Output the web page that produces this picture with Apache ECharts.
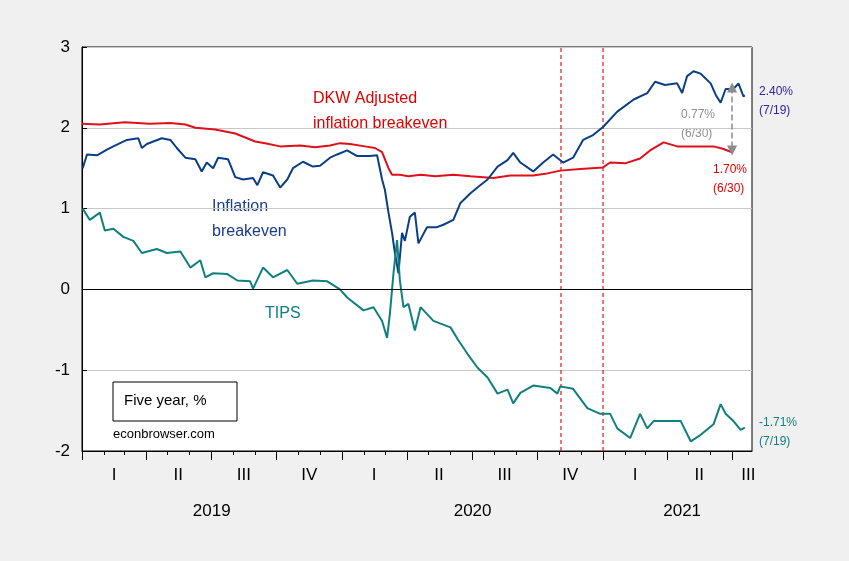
<!DOCTYPE html>
<html><head><meta charset="utf-8">
<script src="https://cdn.jsdelivr.net/npm/echarts@6/dist/echarts.min.js"></script>
<style>html,body{margin:0;padding:0;background:#f0f0f0}#c{width:849px;height:561px}</style>
</head><body><div id="c"></div>
<script>
// x values: days since 2019-01-01
const dkw = [[0,2.05],[25,2.04],[60,2.07],[95,2.05],[124,2.06],[145,2.04],[159,2.00],[187,1.98],[215,1.93],[229,1.88],[243,1.83],[257,1.81],[278,1.77],[306,1.78],[327,1.76],[348,1.78],[362,1.81],[376,1.80],[397,1.77],[411,1.75],[421,1.70],[430,1.50],[435,1.42],[446,1.42],[458,1.40],[475,1.42],[496,1.40],[521,1.42],[545,1.40],[577,1.38],[601,1.41],[633,1.41],[650,1.43],[671,1.47],[699,1.49],[731,1.51],[741,1.57],[762,1.56],[783,1.62],[797,1.72],[816,1.82],[835,1.77],[861,1.77],[886,1.77],[899,1.74],[911,1.70]];
const breakeven = [[1,1.50],[7,1.67],[21,1.66],[35,1.73],[44,1.77],[63,1.85],[79,1.87],[84,1.75],[91,1.80],[112,1.87],[124,1.85],[133,1.75],[145,1.63],[159,1.61],[168,1.46],[175,1.57],[184,1.50],[191,1.63],[205,1.61],[215,1.39],[226,1.36],[240,1.38],[246,1.29],[254,1.45],[268,1.41],[278,1.26],[288,1.36],[296,1.50],[310,1.58],[324,1.52],[334,1.53],[348,1.63],[358,1.67],[372,1.72],[386,1.65],[404,1.65],[414,1.66],[421,1.36],[425,1.23],[430,0.95],[435,0.70],[439,0.45],[444,0.20],[449,0.70],[453,0.60],[460,0.90],[467,0.95],[472,0.57],[484,0.77],[498,0.77],[507,0.80],[521,0.86],[531,1.07],[545,1.19],[556,1.27],[569,1.36],[583,1.52],[597,1.60],[605,1.69],[615,1.57],[633,1.46],[647,1.57],[661,1.67],[675,1.57],[689,1.63],[703,1.85],[717,1.91],[731,2.01],[751,2.20],[774,2.35],[793,2.43],[804,2.57],[818,2.53],[835,2.55],[842,2.43],[849,2.64],[858,2.70],[868,2.67],[882,2.55],[889,2.41],[896,2.31],[903,2.48],[914,2.48],[921,2.55],[928,2.39],[930,2.40]];
const tips = [[1,1.00],[11,0.86],[25,0.95],[32,0.73],[44,0.75],[58,0.65],[72,0.60],[84,0.45],[105,0.50],[119,0.45],[138,0.47],[152,0.27],[166,0.36],[173,0.15],[184,0.20],[204,0.19],[218,0.11],[236,0.10],[240,0.01],[254,0.27],[268,0.15],[288,0.24],[302,0.07],[324,0.11],[344,0.10],[362,0.00],[372,-0.10],[395,-0.26],[409,-0.22],[421,-0.39],[428,-0.60],[432,-0.30],[437,0.20],[442,0.61],[446,0.11],[451,-0.22],[458,-0.18],[467,-0.51],[475,-0.22],[493,-0.39],[517,-0.47],[528,-0.63],[541,-0.80],[555,-0.97],[569,-1.09],[583,-1.29],[597,-1.24],[605,-1.41],[615,-1.28],[633,-1.19],[657,-1.22],[667,-1.29],[671,-1.20],[689,-1.23],[709,-1.47],[727,-1.54],[741,-1.54],[751,-1.72],[769,-1.84],[783,-1.54],[793,-1.72],[802,-1.63],[821,-1.63],[840,-1.63],[854,-1.88],[868,-1.80],[886,-1.67],[896,-1.42],[903,-1.54],[914,-1.63],[924,-1.74],[930,-1.71]];
const quarterStarts = [0,90,181,273,365,456,547,639,731,821,912];
const monthStarts = [0,31,59,90,120,151,181,212,243,273,304,334,365,396,425,456,486,517,547,578,609,639,670,700,731,762,790,821,851,882,912];
const quarterLabelPos = [45,135,227,319,410,501,593,685,776,866,935];
const quarterLabels = ['I','II','III','IV','I','II','III','IV','I','II','III'];
const yearLabelPos = [182,548,842];
const yearLabels = ['2019','2020','2021'];
const verticalLines = [672,731];
const spread = [912,2.50,1.72];

const chart = echarts.init(document.getElementById('c'));
const xMax = 940;
const baseX = {type:'value',min:0,max:xMax,position:'bottom',splitLine:{show:false}};
const vSeries = verticalLines.map(v=>({type:'line',data:[[v,-2],[v,3]],showSymbol:false,silent:true,z:2,
  color:'#e8141e',lineStyle:{color:'#e8141e',type:[4,3],width:1.2}}));
chart.setOption({
  animation:false,
  backgroundColor:'#f0f0f0',
  grid:{left:82,right:97,top:47,bottom:110,show:true,backgroundColor:'#fff',borderColor:'#000',borderWidth:1},
  xAxis:[
    Object.assign({},baseX,{axisLine:{onZero:false,lineStyle:{color:'#000'}},
      axisTick:{customValues:quarterStarts,length:9,lineStyle:{color:'#000'}},
      axisLabel:{customValues:quarterLabelPos,formatter:v=>quarterLabels[quarterLabelPos.indexOf(v)],color:'#000',fontSize:17,fontFamily:'Liberation Sans',margin:16}}),
    Object.assign({},baseX,{axisLine:{show:false,onZero:false},
      axisTick:{customValues:monthStarts,length:4,lineStyle:{color:'#000'}},axisLabel:{show:false}}),
    Object.assign({},baseX,{axisLine:{show:false,onZero:false},axisTick:{show:false},
      axisLabel:{customValues:yearLabelPos,formatter:v=>yearLabels[yearLabelPos.indexOf(v)],color:'#000',fontSize:17,fontFamily:'Liberation Sans',margin:52}})
  ],
  yAxis:{type:'value',min:-2,max:3,interval:1,axisLine:{show:true,lineStyle:{color:'#000'}},axisTick:{show:true,inside:true,length:5,lineStyle:{color:'#000'}},
    axisLabel:{color:'#000',fontSize:17,fontFamily:'Liberation Sans',margin:12},splitLine:{lineStyle:{color:'#c8c8c8'}}},
  series:[
    {type:'line',data:dkw,showSymbol:false,lineStyle:{color:'#e0101a',width:2},z:3,
      markLine:{silent:true,symbol:'none',label:{show:false},lineStyle:{color:'#000',type:'solid',width:1},data:[{yAxis:0}]}},
    ...vSeries,
    {type:'line',data:[],markLine:{silent:true,symbol:['triangle','triangle'],symbolSize:10,label:{show:false},
      lineStyle:{color:'#8c8c8c',type:'dashed',width:1.5},itemStyle:{color:'#8c8c8c'},
      data:[[{coord:[spread[0],spread[1]]},{coord:[spread[0],spread[2]]}]]}},
    {type:'line',data:breakeven,showSymbol:false,lineStyle:{color:'#0b3f85',width:2},z:4},
    {type:'line',data:tips,showSymbol:false,lineStyle:{color:'#10807e',width:2},z:4}
  ],
  graphic:[
    {type:'text',left:313,top:86,style:{text:'DKW Adjusted\ninflation breakeven',fill:'#e00000',font:'16px "Liberation Sans"',lineHeight:25}},
    {type:'text',left:212,top:194,style:{text:'Inflation\nbreakeven',fill:'#1a3c8c',font:'16px "Liberation Sans"',lineHeight:25}},
    {type:'text',left:265,top:306,style:{text:'TIPS',fill:'#10807e',font:'16px "Liberation Sans"'}},
    {type:'rect',shape:{x:113,y:382,width:124,height:39},style:{fill:'#fff',stroke:'#000',lineWidth:1}},
    {type:'text',left:124,top:393,style:{text:'Five year, %',fill:'#000',font:'15px "Liberation Sans"'}},
    {type:'text',left:113,top:428,style:{text:'econbrowser.com',fill:'#000',font:'13px "Liberation Sans"'}},
    {type:'text',left:759,top:82,style:{text:'2.40%\n(7/19)',fill:'#3322aa',font:'12px "Liberation Sans"',lineHeight:19}},
    {type:'text',left:681,top:105,style:{text:'0.77%\n(6/30)',fill:'#909090',font:'12px "Liberation Sans"',lineHeight:19}},
    {type:'text',left:713,top:160,style:{text:'1.70%\n(6/30)',fill:'#e00000',font:'12px "Liberation Sans"',lineHeight:19}},
    {type:'text',left:759,top:413,style:{text:'-1.71%\n(7/19)',fill:'#10807e',font:'12px "Liberation Sans"',lineHeight:19}}
  ]
});
</script></body></html>
